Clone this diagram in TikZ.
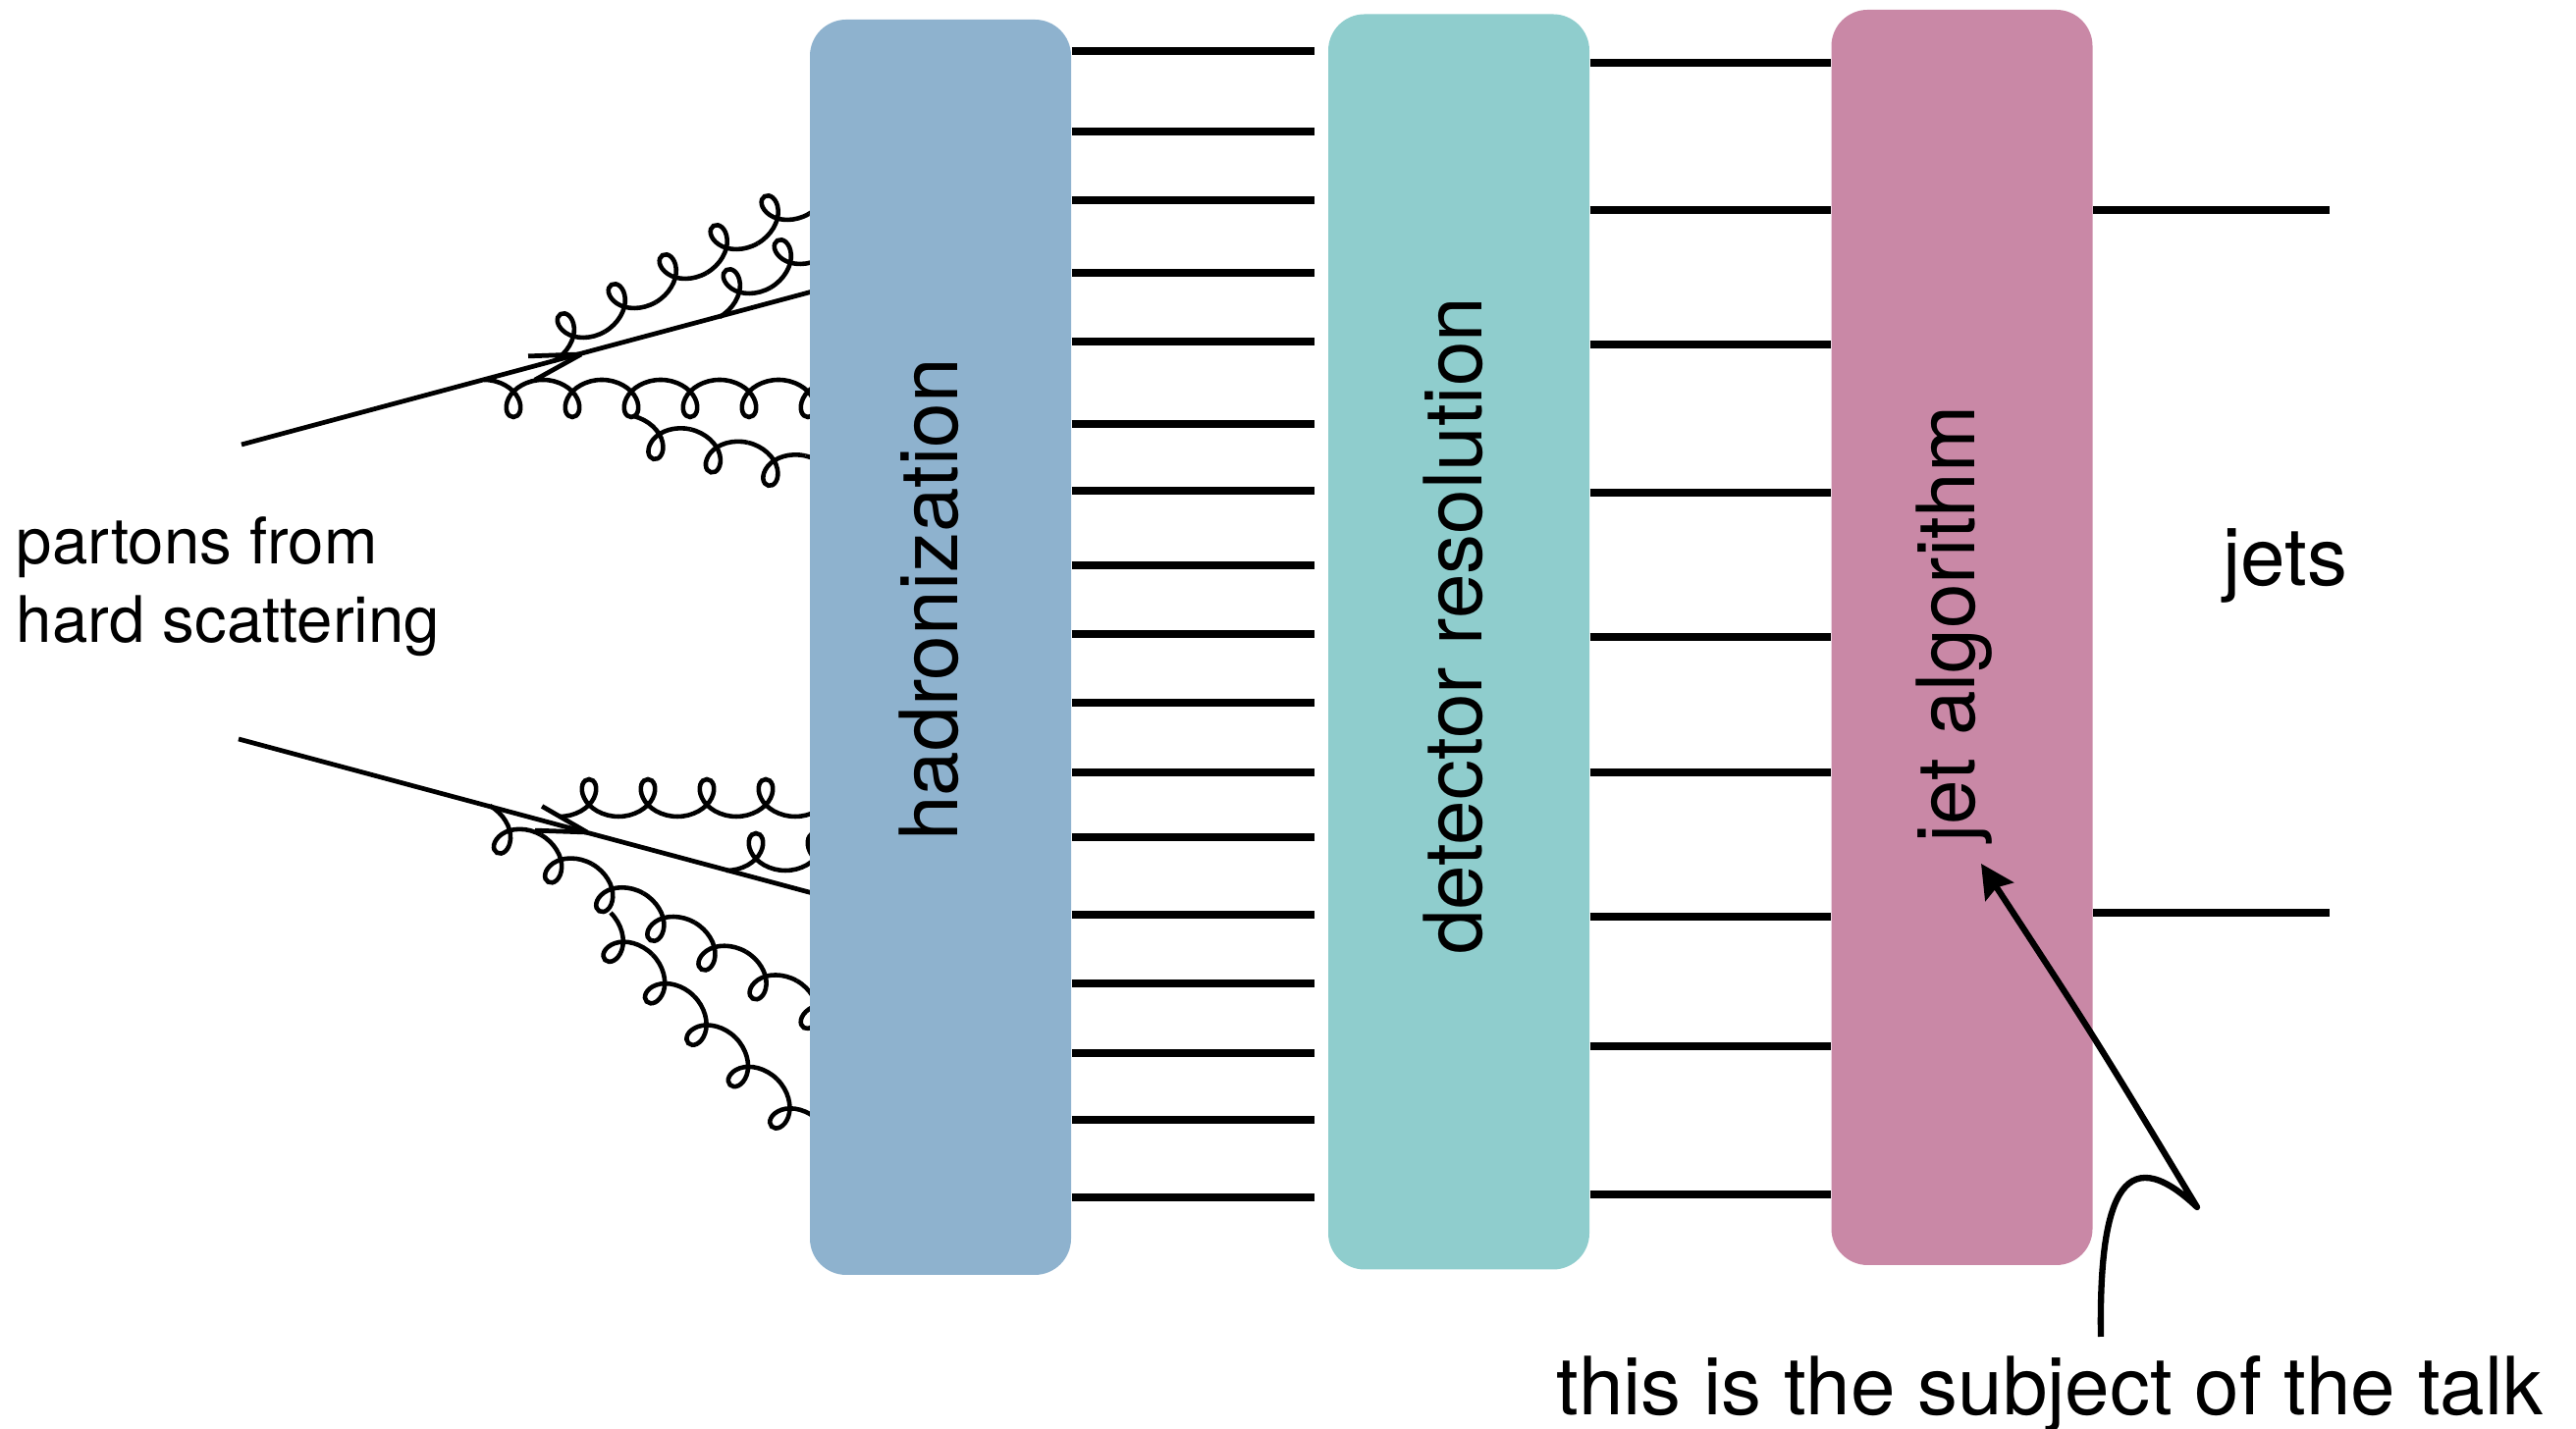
\documentclass[tikz,border=0pt]{standalone}
\usepackage{fontspec}
\setmainfont{TeX Gyre Heros}
\usepackage{tikz}
\usetikzlibrary{arrows.meta}
\definecolor{hadblue}{RGB}{142,178,206}
\definecolor{detteal}{RGB}{143,205,205}
\definecolor{jetpink}{RGB}{201,136,166}

\newcommand{\gluon}[4][]{%
  \begin{scope}[shift={#2}, rotate=#3, #1]
    \foreach \k in {1,...,#4}
      \draw[gluonline, xshift={(\k-1)*0.6cm}] (0,0)
        .. controls (0.16,0) and (0.30,-0.085) .. (0.35,-0.19)
        .. controls (0.40,-0.295) and (0.36,-0.38) .. (0.30,-0.38)
        .. controls (0.24,-0.38) and (0.20,-0.295) .. (0.25,-0.19)
        .. controls (0.30,-0.085) and (0.44,0) .. (0.60,0);
  \end{scope}}

\begin{document}
\begin{tikzpicture}[
  stage/.style={rectangle, rounded corners=0.37cm, minimum width=2.66cm, minimum height=12.79cm, inner sep=0pt},
  stagelabel/.style={rotate=90, inner sep=0pt, font=\fontsize{23.3}{28}\selectfont},
  bigtext/.style={inner sep=0pt, font=\fontsize{23.3}{28}\selectfont},
  track/.style={line width=2.2pt},
  quark/.style={line width=1.35pt},
  gluonline/.style={line width=1.3pt},
  callout/.style={line width=1.8pt, line join=round, -{Stealth[length=0.34cm, width=0.34cm, inset=0.05cm]}}
]
\useasboundingbox (0,0) rectangle (26.24,14.56);

\coordinate (q1in) at (2.46,10.03);
\coordinate (q1out) at (8.50,11.65);
\coordinate (q1tip) at (5.92,10.95);
\coordinate (q2in) at (2.43,7.03);
\coordinate (q2out) at (8.50,5.40);
\coordinate (q2tip) at (5.98,6.08);
\draw[quark] (q1in) -- (q1out);
\draw[quark] (q1tip) -- ++(182:0.54) (q1tip) -- ++(209:0.54);
\draw[quark] (q2in) -- (q2out);
\draw[quark] (q2tip) -- ++(178:0.53) (q2tip) -- ++(150:0.53);

\gluon{(4.93,10.69)}{0}{6}
\gluon{(6.45,10.32)}{-13}{4}
\gluon[yscale=-1]{(5.64,10.88)}{30}{6}
\gluon[yscale=-1]{(7.33,11.33)}{30}{3}

\gluon[yscale=-1]{(5.70,6.24)}{0}{5}
\gluon[yscale=-1]{(7.40,5.69)}{0}{2}
\gluon{(4.99,6.35)}{-29.7}{7}
\gluon{(6.22,5.26)}{-45}{5}

\node[stage, fill=hadblue] (had) at (9.58,7.965) {};
\node[stage, fill=detteal] (det) at (14.86,8.02) {};
\node[stage, fill=jetpink] (jet) at (19.985,8.065) {};

\node[stagelabel] (hadtext) at (9.46,8.45) {hadronization};
\node[stagelabel] (dettext) at (14.80,8.18) {detector resolution};
\node[stagelabel] (jettext) at (19.91,8.20) {jet algorithm};

\foreach \y in {14.04,13.22,12.52,11.78,11.08,10.24,9.56,8.80,8.10,7.40,6.69,6.03,5.24,4.54,3.83,3.15,2.36}
  \draw[track, shorten >=0.13cm] (had.east |- 0,\y) -- (det.west |- 0,\y);
\foreach \y in {13.92,12.42,11.05,9.54,8.07,6.69,5.22,3.90,2.39}
  \draw[track] (det.east |- 0,\y) -- (jet.west |- 0,\y);

\coordinate (jetA) at (23.73,12.42);
\coordinate (jetB) at (23.73,5.26);
\draw[track] (jet.east |- jetA) -- (jetA);
\draw[track] (jet.east |- jetB) -- (jetB);

\node[anchor=base west, align=left, inner sep=0pt, font=\fontsize{18.6}{22.8}\selectfont] (partons) at (0.16,8.01) {partons from\\hard scattering};
\node[bigtext, anchor=base] (jets) at (23.28,8.59) {jets};
\node[bigtext, anchor=base west] (talk) at (15.85,0.14) {this is the subject of the talk};

\coordinate (talkstart) at (21.40,0.94);
\coordinate (kink) at (22.38,2.26);
\coordinate (jetpoint) at (20.18,5.76);
\draw[callout] (talkstart) .. controls (21.38,2.30) and (21.60,3.00) .. (kink) .. controls (21.35,3.97) .. (jetpoint);
\end{tikzpicture}
\end{document}
